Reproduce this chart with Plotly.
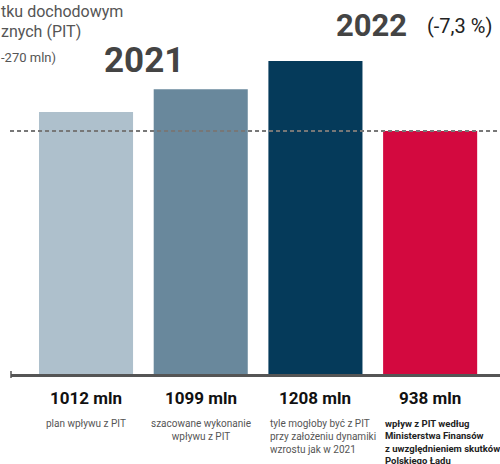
import plotly.graph_objects as go

categories = ["plan", "szacowane", "dynamika", "MF"]
values = [1012, 1099, 1208, 938]
bar_colors = ["#AEC0CC", "#69889C", "#053A5A", "#D3093F"]
descriptions = [
    "plan wpływu z PIT",
    "szacowane wykonanie<br>wpływu z PIT",
    "tyle mogłoby być z PIT<br>przy założeniu dynamiki<br>wzrostu jak w 2021",
    "<b>wpływ z PIT według<br>Ministerstwa Finansów<br>z uwzględnieniem skutków<br>Polskiego Ładu</b>",
]
ref_value = 938

W, H = 500, 464
ML, MR, MT, MB = 11, 0, 0, 90
PW, PH = W - ML - MR, H - MT - MB

FONT = "Roboto, sans-serif"


def px(xp):
    return (xp - ML) / PW


def py(yp):
    return (H - MB - yp) / PH


fig = go.Figure()
fig.add_trace(go.Bar(
    x=list(range(len(values))), y=values, width=0.82,
    marker=dict(color=bar_colors, line=dict(width=0)),
    hoverinfo="skip", showlegend=False,
))

fig.update_xaxes(range=[-0.654, 3.609], showgrid=False, zeroline=False,
                 showticklabels=False, showline=True, linecolor="#555555",
                 linewidth=2.5, ticks="")
fig.update_yaxes(range=[0, 1444], showgrid=False, zeroline=False,
                 showticklabels=False, showline=False)

shapes = [
    dict(type="line", xref="paper", yref="y", x0=-0.002, x1=1, y0=ref_value, y1=ref_value,
         line=dict(color="#777777", width=2, dash="4px,3px")),
    dict(type="line", xref="paper", yref="paper", x0=0, x1=0, y0=py(378), y1=py(371),
         line=dict(color="#555555", width=1.5)),
]

annotations = []
# top-left clipped title text
annotations.append(dict(xref="paper", yref="paper", x=px(-1), y=py(11), xanchor="left", yanchor="middle",
                        text="tku dochodowym", showarrow=False,
                        font=dict(family=FONT, size=16, color="#555555")))
annotations.append(dict(xref="paper", yref="paper", x=px(-1), y=py(31), xanchor="left", yanchor="middle",
                        text="znych (PIT)", showarrow=False,
                        font=dict(family=FONT, size=16, color="#555555")))
annotations.append(dict(xref="paper", yref="paper", x=px(-1), y=py(58), xanchor="left", yanchor="middle",
                        text="-270 mln)", showarrow=False,
                        font=dict(family=FONT, size=13, color="#555555")))
# years
annotations.append(dict(xref="paper", yref="paper", x=px(144), y=py(61), xanchor="center", yanchor="middle",
                        text="2021", showarrow=False,
                        font=dict(family=FONT, size=35, color="#444444", weight="bold")))
annotations.append(dict(xref="paper", yref="paper", x=px(371), y=py(26), xanchor="center", yanchor="middle",
                        text="2022", showarrow=False,
                        font=dict(family=FONT, size=31, color="#444444", weight="bold")))
annotations.append(dict(xref="paper", yref="paper", x=px(459), y=py(26), xanchor="center", yanchor="middle",
                        text="(-7,3 %)", showarrow=False,
                        font=dict(family=FONT, size=20, color="#222222")))

for i, v in enumerate(values):
    annotations.append(dict(xref="x", yref="paper", x=i, y=py(398), xanchor="center", yanchor="middle",
                            text=f"<b>{v} mln</b>", showarrow=False,
                            font=dict(family=FONT, size=17, color="#111111")))
    if i < 2:
        annotations.append(dict(xref="x", yref="paper", x=i, y=py(416), xanchor="center", yanchor="top",
                                text=descriptions[i], showarrow=False, align="center",
                                font=dict(family=FONT, size=10, color="#555555")))
    else:
        annotations.append(dict(xref="x", yref="paper", x=i - 0.415, y=py(416), xanchor="left", yanchor="top",
                                text=descriptions[i], showarrow=False, align="left",
                                font=dict(family=FONT, size=10 if i == 2 else 9.5,
                                          color="#555555" if i == 2 else "#222222")))

fig.update_layout(
    width=W, height=H,
    margin=dict(l=ML, r=MR, t=MT, b=MB, pad=0),
    paper_bgcolor="white", plot_bgcolor="white",
    shapes=shapes, annotations=annotations,
)

fig.write_html("out.html", config={"displayModeBar": False},
               post_script="document.body.style.margin='0';document.body.style.overflow='hidden';")
